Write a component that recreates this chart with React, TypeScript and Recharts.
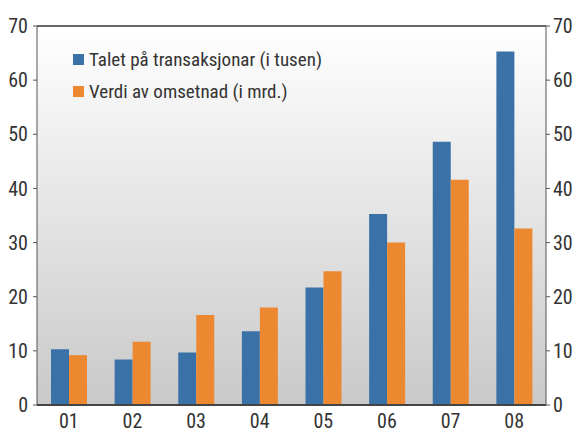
import {
  BarChart,
  Bar,
  XAxis,
  YAxis,
  ReferenceLine,
  CartesianGrid,
} from "recharts";

const years = ["01", "02", "03", "04", "05", "06", "07", "08"];
const transaksjonar = [10.3, 8.4, 9.7, 13.6, 21.7, 35.3, 48.6, 65.3];
const omsetnad = [9.2, 11.7, 16.6, 18.0, 24.7, 30.0, 41.6, 32.6];
const yTicks = [0, 10, 20, 30, 40, 50, 60, 70];

const seriesNames = {
  transaksjonar: "Talet på transaksjonar (i tusen)",
  omsetnad: "Verdi av omsetnad (i mrd.)",
};

const data = years.map((year, i) => ({
  year,
  transaksjonar: transaksjonar[i],
  omsetnad: omsetnad[i],
}));

const BLUE = "#3a72a8";
const ORANGE = "#ec8830";
const FONT = "'Liberation Sans Narrow', 'Roboto Condensed', Roboto, sans-serif";

function LegendBox() {
  const items = [
    {name: seriesNames.transaksjonar, color: BLUE},
    {name: seriesNames.omsetnad, color: ORANGE},
  ];
  return (
    <div style={{position: "absolute", left: 73, top: 43, fontFamily: FONT, fontSize: 19, color: "#333"}}>
      {items.map((it) => (
        <div key={it.name} style={{display: "flex", alignItems: "center", height: 32}}>
          <span style={{display: "inline-block", width: 11, height: 11, background: it.color, marginRight: 5}} />
          <span>{it.name}</span>
        </div>
      ))}
    </div>
  );
}

export default function App() {
  return (
    <div style={{position: "relative", width: 576, height: 433, background: "#fff"}}>
      <style>{`body{margin:0}`}</style>
      <svg width={0} height={0} style={{position: "absolute"}}>
        <defs>
          <linearGradient id="plotBg" x1="0" y1="0" x2="0" y2="1">
            <stop offset="0%" stopColor="#ffffff" />
            <stop offset="100%" stopColor="#c9c9c9" />
          </linearGradient>
        </defs>
      </svg>
      <BarChart
        width={576}
        height={433}
        data={data}
        margin={{top: 26, right: 0, bottom: 0, left: 0}}
        barGap={0}
        barSize={18}
      >
        <CartesianGrid horizontal={false} vertical={false} fill="url(#plotBg)" />
        <XAxis
          dataKey="year"
          height={28}
          tickLine={false}
          axisLine={{stroke: "#444", strokeWidth: 2}}
          tick={{fontSize: 20, fill: "#333", fontFamily: FONT}}
          tickMargin={3}
          interval={0}
        />
        <YAxis
          yAxisId="left"
          width={37}
          domain={[0, 70]}
          ticks={yTicks}
          tickSize={4}
          tickMargin={5}
          axisLine={{stroke: "#555"}}
          tickLine={{stroke: "#555"}}
          tick={{fontSize: 20, fill: "#333", fontFamily: FONT}}
        />
        <YAxis
          yAxisId="right"
          orientation="right"
          width={30}
          domain={[0, 70]}
          ticks={yTicks}
          tickSize={4}
          tickMargin={3}
          axisLine={{stroke: "#555"}}
          tickLine={{stroke: "#555"}}
          tick={{fontSize: 20, fill: "#333", fontFamily: FONT}}
        />
        <ReferenceLine yAxisId="left" y={70} stroke="#333" strokeWidth={1.5} />
        <Bar
          yAxisId="left"
          dataKey="transaksjonar"
          name={seriesNames.transaksjonar}
          fill={BLUE}
          isAnimationActive={false}
        />
        <Bar
          yAxisId="right"
          dataKey="omsetnad"
          name={seriesNames.omsetnad}
          fill={ORANGE}
          isAnimationActive={false}
        />
      </BarChart>
      <LegendBox />
    </div>
  );
}
